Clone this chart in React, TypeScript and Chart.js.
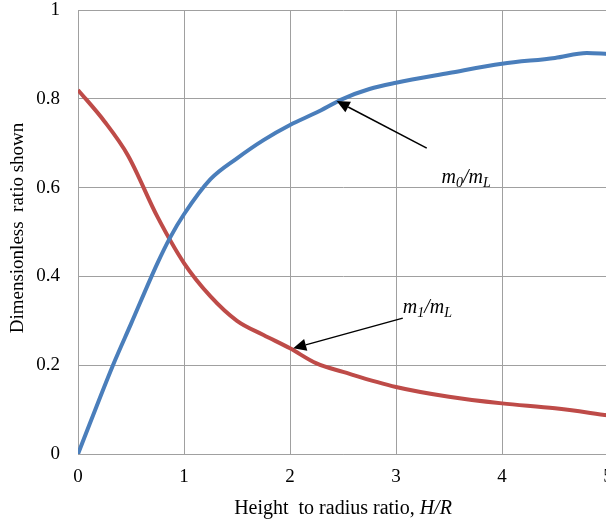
import { useEffect, useRef } from 'react';
import { Chart, registerables } from 'chart.js';

Chart.register(...registerables);

const FONT = "'Liberation Serif', 'Times New Roman', serif";

// m0/mL (blue)
const xBlue = [0, 0.33, 0.5, 0.75, 0.87, 1, 1.25, 1.5, 1.75, 2, 2.25, 2.5, 2.75, 3, 3.5, 4, 4.5, 4.8, 5];
const yBlue = [0, 0.2, 0.293, 0.43, 0.488, 0.54, 0.619, 0.666, 0.707, 0.741, 0.769, 0.8, 0.822, 0.836, 0.858, 0.879, 0.892, 0.903, 0.901];

// m1/mL (red)
const xRed = [0, 0.25, 0.47, 0.75, 1, 1.25, 1.5, 1.75, 2, 2.25, 2.5, 3, 3.5, 4, 4.5, 5];
const yRed = [0.82, 0.749, 0.673, 0.534, 0.43, 0.355, 0.3, 0.268, 0.238, 0.204, 0.185, 0.151, 0.129, 0.114, 0.103, 0.087];

const xTicks = [0, 1, 2, 3, 4, 5];
const yTicks = [0, 0.2, 0.4, 0.6, 0.8, 1];
const yTickLabels = ['0', '0.2', '0.4', '0.6', '0.8', '1'];

const xTitle = 'Height  to radius ratio, ';
const xTitleItalic = 'H/R';
const yTitle = 'Dimensionless  ratio shown';

// annotation anchors in data units
const label0 = { sub: '0', tip: [2.44, 0.795], tail: [3.29, 0.689], text: [3.43, 0.611] };
const label1 = { sub: '1', tip: [2.03, 0.238], tail: [3.064, 0.306], text: [3.064, 0.317] };

type Run = { t: string; italic?: boolean; size: number; dy?: number };

function drawRuns(ctx: CanvasRenderingContext2D, runs: Run[], x: number, y: number, align: 'left' | 'center') {
  let total = 0;
  for (const r of runs) {
    ctx.font = `${r.italic ? 'italic ' : ''}${r.size}px ${FONT}`;
    total += ctx.measureText(r.t).width;
  }
  let cx = align === 'center' ? x - total / 2 : x;
  ctx.textAlign = 'left';
  ctx.textBaseline = 'alphabetic';
  for (const r of runs) {
    ctx.font = `${r.italic ? 'italic ' : ''}${r.size}px ${FONT}`;
    ctx.fillText(r.t, cx, y + (r.dy || 0));
    cx += ctx.measureText(r.t).width;
  }
}

function drawArrow(ctx: CanvasRenderingContext2D, x1: number, y1: number, x2: number, y2: number) {
  const ang = Math.atan2(y2 - y1, x2 - x1);
  const headLen = 13;
  const headW = 6;
  const bx = x2 - headLen * Math.cos(ang);
  const by = y2 - headLen * Math.sin(ang);
  ctx.strokeStyle = '#000';
  ctx.lineWidth = 1.5;
  ctx.beginPath();
  ctx.moveTo(x1, y1);
  ctx.lineTo(bx, by);
  ctx.stroke();
  ctx.fillStyle = '#000';
  ctx.beginPath();
  ctx.moveTo(x2, y2);
  ctx.lineTo(bx + headW * Math.sin(ang), by - headW * Math.cos(ang));
  ctx.lineTo(bx - headW * Math.sin(ang), by + headW * Math.cos(ang));
  ctx.closePath();
  ctx.fill();
}

const annotate = {
  id: 'annotate',
  afterDraw(chart: any) {
    const { ctx, chartArea, scales } = chart;
    const xs = scales.x;
    const ys = scales.y;
    ctx.save();
    ctx.fillStyle = '#000';
    drawRuns(
      ctx,
      [
        { t: xTitle, size: 20 },
        { t: xTitleItalic, size: 20, italic: true },
      ],
      (chartArea.left + chartArea.right) / 2,
      514,
      'center'
    );
    ctx.save();
    ctx.translate(18, (chartArea.top + chartArea.bottom) / 2 - 4);
    ctx.rotate(-Math.PI / 2);
    ctx.font = `19px ${FONT}`;
    ctx.textAlign = 'center';
    ctx.textBaseline = 'middle';
    ctx.fillText(yTitle, 0, 0);
    ctx.restore();
    for (const L of [label0, label1]) {
      drawArrow(
        ctx,
        xs.getPixelForValue(L.tail[0]),
        ys.getPixelForValue(L.tail[1]),
        xs.getPixelForValue(L.tip[0]),
        ys.getPixelForValue(L.tip[1])
      );
      ctx.fillStyle = '#000';
      drawRuns(
        ctx,
        [
          { t: 'm', size: 20, italic: true },
          { t: L.sub, size: 14, italic: true, dy: 4 },
          { t: '/m', size: 20, italic: true },
          { t: 'L', size: 14, italic: true, dy: 4 },
        ],
        xs.getPixelForValue(L.text[0]),
        ys.getPixelForValue(L.text[1]),
        'left'
      );
    }
    ctx.restore();
  },
};

export default function App() {
  const ref = useRef<HTMLCanvasElement | null>(null);
  useEffect(() => {
    if (!ref.current) return;
    const grid = '#a0a0a0';
    const chart = new Chart(ref.current, {
      type: 'line',
      data: {
        datasets: [
          {
            label: 'm0/mL',
            data: xBlue.map((x, i) => ({ x, y: yBlue[i] })),
            borderColor: '#4a7ebb',
            borderWidth: 4,
            pointRadius: 0,
            cubicInterpolationMode: 'monotone',
            fill: false,
          },
          {
            label: 'm1/mL',
            data: xRed.map((x, i) => ({ x, y: yRed[i] })),
            borderColor: '#be4b48',
            borderWidth: 4,
            pointRadius: 0,
            cubicInterpolationMode: 'monotone',
            fill: false,
          },
        ],
      },
      options: {
        animation: false,
        responsive: false,
        devicePixelRatio: 1,
        layout: { padding: { top: 10, right: 22, left: 0, bottom: 0 } },
        plugins: { legend: { display: false }, tooltip: { enabled: false } },
        scales: {
          x: {
            type: 'linear',
            min: 0,
            max: 5,
            afterFit: (s: any) => {
              s.height = 68;
              s.paddingLeft = 0;
              s.paddingRight = 0;
            },
            afterBuildTicks: (s: any) => {
              s.ticks = xTicks.map((v) => ({ value: v }));
            },
            grid: { color: grid, lineWidth: 1, drawTicks: false },
            border: { color: grid, width: 1 },
            ticks: { font: { family: FONT, size: 19 }, color: '#000', padding: 12, maxRotation: 0 },
          },
          y: {
            type: 'linear',
            min: 0,
            max: 1,
            afterFit: (s: any) => {
              s.width = 78;
              s.paddingTop = 0;
              s.paddingBottom = 0;
            },
            afterBuildTicks: (s: any) => {
              s.ticks = yTicks.map((v) => ({ value: v }));
            },
            grid: { color: grid, lineWidth: 1, drawTicks: false },
            border: { color: grid, width: 1 },
            ticks: {
              font: { family: FONT, size: 19 },
              color: '#000',
              padding: 18,
              callback: (_v: any, i: number) => yTickLabels[i],
            },
          },
        },
      },
      plugins: [annotate],
    });
    return () => chart.destroy();
  }, []);
  return (
    <div style={{ position: 'fixed', left: 0, top: 0, width: 606, height: 522, overflow: 'hidden', background: '#fff' }}>
      <canvas ref={ref} width={630} height={522} style={{ width: 630, height: 522, display: 'block' }} />
    </div>
  );
}
